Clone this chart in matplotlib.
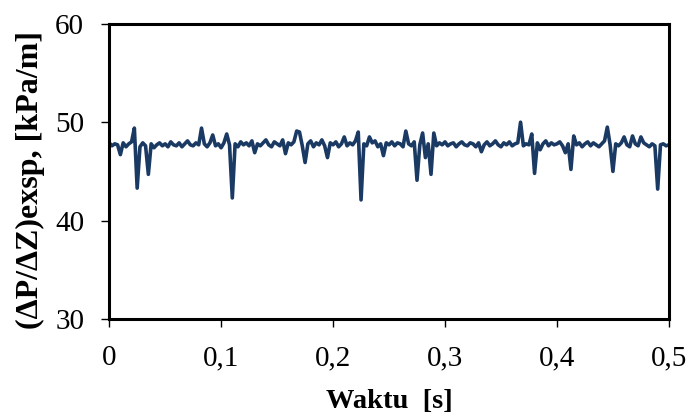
import numpy as np
import matplotlib.pyplot as plt

# pressure gradient readings, sampled every 0.0025 s from 0 to 0.5 s
dp_dz = [
    47.9, 47.6, 47.8, 47.7, 46.7, 47.9, 47.5, 47.8, 48.0, 49.4,
    43.3, 47.5, 47.9, 47.6, 44.7, 47.8, 47.4, 47.7, 47.9, 47.6,
    47.8, 47.5, 48.0, 47.7, 47.6, 47.9, 47.5, 47.8, 48.1, 47.7,
    47.6, 47.9, 47.7, 49.4, 47.8, 47.5, 47.9, 48.7, 47.6, 47.8,
    47.4, 47.9, 48.8, 47.7, 42.3, 47.8, 47.5, 48.0, 47.7, 47.9,
    47.6, 48.1, 46.9, 47.8, 47.6, 47.9, 48.2, 47.7, 47.5, 48.0,
    47.8, 47.6, 48.2, 46.8, 47.9, 47.7, 48.0, 49.1, 49.0, 47.6,
    45.9, 47.8, 48.1, 47.5, 47.9, 47.7, 48.2, 47.6, 46.4, 47.9,
    47.7, 48.0, 47.5, 47.8, 48.5, 47.6, 47.9, 47.7, 48.1, 49.0,
    42.1, 47.8, 47.6, 48.5, 47.9, 48.1, 47.5, 47.8, 46.6, 47.9,
    47.7, 48.0, 47.6, 47.9, 47.8, 47.5, 49.1, 47.8, 47.6, 48.0,
    44.1, 47.7, 48.9, 46.4, 47.8, 44.7, 48.9, 47.6, 47.9, 47.7,
    48.0, 47.6, 47.8, 47.9, 47.5, 47.8, 48.0, 47.7, 47.6, 47.9,
    47.8, 47.5, 47.9, 47.0, 47.7, 48.0, 47.6, 47.8, 48.1, 47.7,
    47.5, 47.9, 47.7, 48.0, 47.6, 47.8, 47.9, 50.0, 47.6, 47.8,
    47.7, 48.8, 44.8, 47.9, 47.2, 47.8, 48.1, 47.6, 47.9, 47.7,
    47.8, 48.0, 47.6, 46.9, 47.8, 45.2, 48.6, 47.7, 47.9, 47.5,
    47.8, 48.0, 47.6, 47.9, 47.7, 47.5, 47.8, 48.1, 49.5, 47.7,
    45.0, 47.8, 47.6, 47.9, 48.5, 47.7, 47.5, 48.6, 47.8, 47.6,
    48.5, 47.9, 47.7, 47.5, 47.8, 47.6, 43.2, 47.7, 47.8, 47.6,
    47.7,
]
t_end = 0.5
xticks = [0, 0.1, 0.2, 0.3, 0.4, 0.5]
xticklabels = ['0', '0,1', '0,2', '0,3', '0,4', '0,5']
yticks = [30, 40, 50, 60]

plt.rcParams['font.family'] = ['Liberation Serif', 'DejaVu Serif']

t = np.linspace(0, t_end, len(dp_dz))

fig = plt.figure(figsize=(6.91, 4.18), dpi=100)
ax = fig.add_axes([0.158, 0.237, 0.81, 0.706])
ax.plot(t, dp_dz, color='#1b3a63', lw=2.6)

ax.set_xlim(0, 0.5)
ax.set_ylim(30, 60)
ax.set_xticks(xticks)
ax.set_xticklabels(xticklabels)
ax.set_yticks(yticks)
ax.tick_params(labelsize=21, direction='out', length=6, width=1)
ax.tick_params(axis='x', pad=13)
ax.tick_params(axis='y', pad=12)
for s in ax.spines.values():
    s.set_linewidth(2.2)

ax.set_xlabel('Waktu  [s]', fontsize=20.5, fontweight='bold')
ax.xaxis.set_label_coords(0.5, -0.238)
ax.set_ylabel('(ΔP/ΔZ)exsp, [kPa/m]', fontsize=23, fontweight='bold')
ax.yaxis.set_label_coords(-0.114, 0.47)

fig.savefig('out.png', dpi=100)
